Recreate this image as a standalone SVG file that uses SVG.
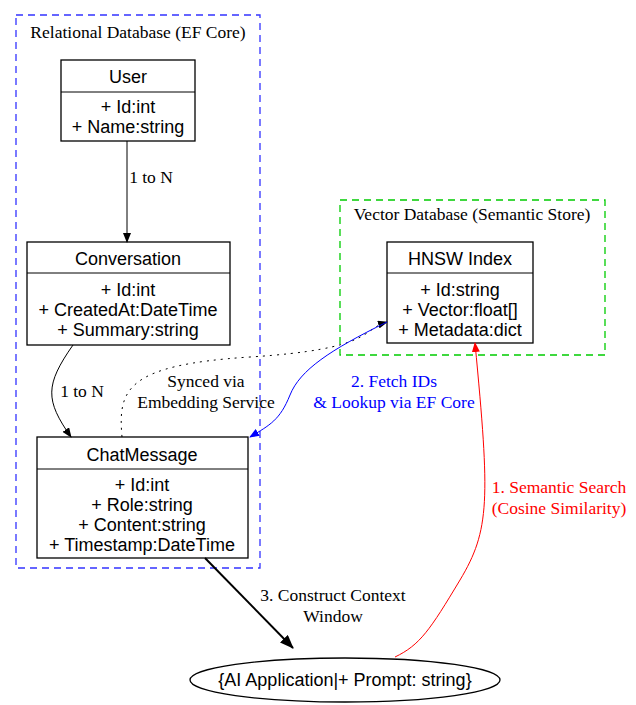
<svg xmlns="http://www.w3.org/2000/svg" width="636" height="705" viewBox="0 0 636 705">
<style>
.n{font-family:"Liberation Sans",Arial,sans-serif;font-size:18px;text-anchor:middle}
.l{font-family:"Liberation Serif","Times New Roman",serif;font-size:17.5px;text-anchor:middle}
.b{fill:#fff;stroke:#000;stroke-width:1.3}
</style>
<defs>
<marker id="ak" markerWidth="10" markerHeight="8" refX="9" refY="4" orient="auto" markerUnits="userSpaceOnUse"><path d="M0,0L10,4L0,8z" fill="#000"/></marker>
<marker id="ab" markerWidth="10" markerHeight="8" refX="9" refY="4" orient="auto" markerUnits="userSpaceOnUse"><path d="M0,0L10,4L0,8z" fill="#00f"/></marker>
<marker id="ar" markerWidth="10" markerHeight="8" refX="9" refY="4" orient="auto" markerUnits="userSpaceOnUse"><path d="M0,0L10,4L0,8z" fill="#f00"/></marker>
<marker id="ak2" markerWidth="14" markerHeight="11" refX="13" refY="5.5" orient="auto" markerUnits="userSpaceOnUse"><path d="M0,0L14,5.5L0,11z" fill="#000"/></marker>
</defs>
<rect x="16" y="15" width="244" height="553" fill="none" stroke="#33f" stroke-width="1.3" stroke-dasharray="7,5"/>
<text class="l" x="138" y="38">Relational Database (EF Core)</text>
<rect x="340" y="200" width="265" height="155" fill="none" stroke="#0c0" stroke-width="1.3" stroke-dasharray="7,5"/>
<text class="l" x="472" y="220">Vector Database (Semantic Store)</text>
<g id="user"><rect class="b" x="61" y="60" width="134" height="81"/><line x1="61" y1="92" x2="195" y2="92" stroke="#000"/>
<text class="n" x="128" y="83">User</text><text class="n" x="128" y="113">+ Id:int</text><text class="n" x="128" y="133">+ Name:string</text></g>
<g id="conversation"><rect class="b" x="27" y="242" width="203" height="103"/><line x1="27" y1="273" x2="230" y2="273" stroke="#000"/>
<text class="n" x="128" y="265">Conversation</text><text class="n" x="128" y="296">+ Id:int</text><text class="n" x="128" y="316">+ CreatedAt:DateTime</text><text class="n" x="128" y="336">+ Summary:string</text></g>
<g id="hnsw"><rect class="b" x="387" y="242" width="146" height="101"/><line x1="387" y1="273" x2="533" y2="273" stroke="#000"/>
<text class="n" x="460" y="265">HNSW Index</text><text class="n" x="460" y="296">+ Id:string</text><text class="n" x="460" y="316">+ Vector:float[]</text><text class="n" x="460" y="336">+ Metadata:dict</text></g>
<g id="chatmessage"><rect class="b" x="37" y="437" width="211" height="121"/><line x1="37" y1="469" x2="248" y2="469" stroke="#000"/>
<text class="n" x="142" y="461">ChatMessage</text><text class="n" x="142" y="491">+ Id:int</text><text class="n" x="142" y="511">+ Role:string</text><text class="n" x="142" y="531">+ Content:string</text><text class="n" x="142" y="551">+ Timestamp:DateTime</text></g>
<g id="app"><ellipse cx="345" cy="680" rx="155" ry="22" fill="#fff" stroke="#000" stroke-width="1.3"/>
<text class="n" x="345" y="686">{AI Application|+ Prompt: string}</text></g>
<g id="edges" fill="none">
<path d="M127,141V242" stroke="#000" marker-end="url(#ak)"/>
<path d="M73,345C45,385 45,400 71,437" stroke="#000" marker-end="url(#ak)"/>
<path d="M122,437C118,390 125,365 250,357S360,330 387,322" stroke="#000" stroke-dasharray="2,5" marker-end="url(#ak)"/>
<path d="M387,322C330,350 300,370 290,395S270,425 250,437" stroke="#00f" marker-end="url(#ab)"/>
<path d="M395,657C420,645 430,630 460,580S490,500 475,343" stroke="#f00" marker-end="url(#ar)"/>
<path d="M205,558L293,648" stroke="#000" stroke-width="2" marker-end="url(#ak2)"/>
</g>
<g id="labels">
<text class="l" x="151" y="183">1 to N</text>
<text class="l" x="82" y="397">1 to N</text>
<text class="l" x="206" y="387">Synced via</text><text class="l" x="206" y="408">Embedding Service</text>
<text class="l" x="394" y="387" fill="#00f">2. Fetch IDs</text><text class="l" x="394" y="408" fill="#00f">&amp; Lookup via EF Core</text>
<text class="l" x="559" y="493" fill="#f00">1. Semantic Search</text><text class="l" x="559" y="514" fill="#f00">(Cosine Similarity)</text>
<text class="l" x="333" y="601">3. Construct Context</text><text class="l" x="333" y="622">Window</text>
</g>
</svg>
